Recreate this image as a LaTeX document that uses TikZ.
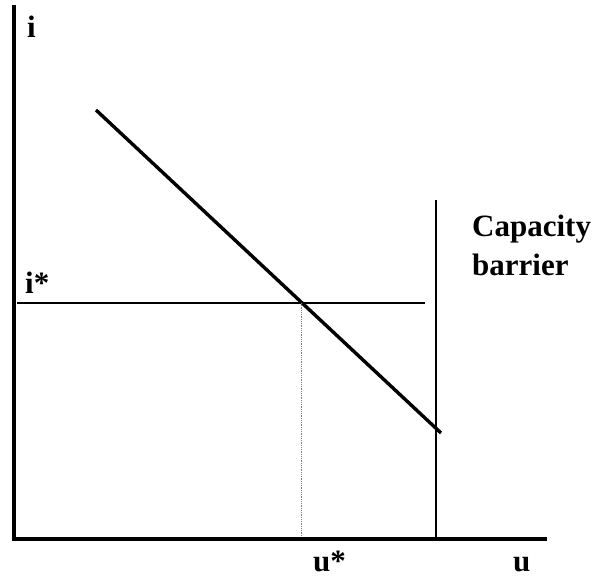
\documentclass[tikz,border=0pt]{standalone}
\usepackage{fontspec}
\setmainfont{Liberation Serif}
\usetikzlibrary{positioning}

\begin{document}
\begin{tikzpicture}[
    x=1pt, y=-1pt,
    axis/.style={line width=4pt},
    curve/.style={line width=3.4pt},
    barrier/.style={line width=2.8pt},
    level/.style={line width=2.2pt},
    guide/.style={line width=0.8pt, densely dotted, gray},
    lbl/.style={font=\fontsize{31}{36}\selectfont\bfseries, inner sep=0pt, anchor=base west}
]
    \useasboundingbox (0,0) rectangle (593,580);

    % axes
    \coordinate (origin) at (14,539);
    \coordinate (ytop) at (14,5);
    \coordinate (xend) at (547,539);
    \draw[axis] (ytop) -- (origin) -- (xend);

    % curve and levels
    \coordinate (cstart) at (96,110);
    \coordinate (cend) at (441,433);
    \draw[curve] (cstart) -- (cend);
    \coordinate (btop) at (436,200);
    \coordinate (bbot) at (436,537);
    \draw[barrier] (btop) -- (bbot);
    \coordinate (lstart) at (17,303);
    \coordinate (lend) at (425,303);
    \draw[level] (lstart) -- (lend);
    \coordinate (eq) at (301,303);
    \coordinate (eqbot) at (301,537);
    \draw[guide] (eq) -- (eqbot);

    % labels
    \node[lbl] (ilab) at (27,38) {i};
    \node[lbl] (istar) at (25,293) {i*};
    \node[lbl] (ustar) at (313,571) {u*};
    \node[lbl] (ulab) at (513,571) {u};
    \node[lbl] (cap) at (472,236) {Capacity};
    \node[lbl] (bar) at (472,275) {barrier};
\end{tikzpicture}
\end{document}
